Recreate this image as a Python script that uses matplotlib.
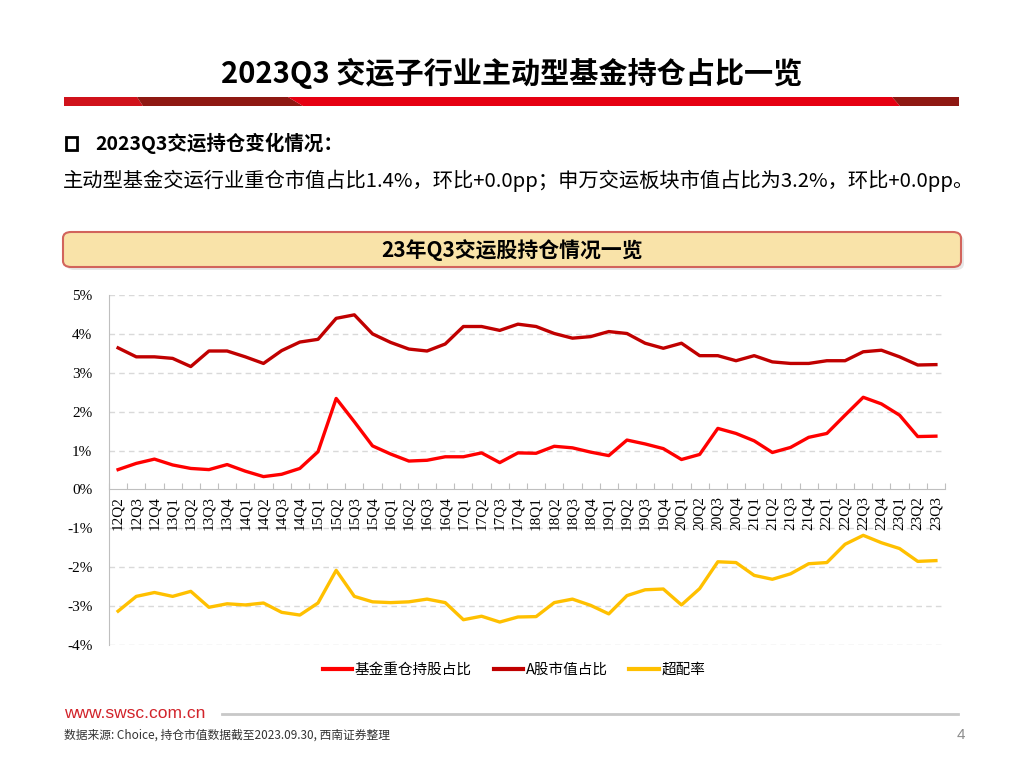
import matplotlib
matplotlib.use("Agg")
from matplotlib import pyplot as plt
from matplotlib.patches import Polygon, FancyBboxPatch, Rectangle
from matplotlib.lines import Line2D
import numpy as np

plt.rcParams['font.family'] = ['Noto Sans CJK SC', 'DejaVu Sans']

# =============================================================================
# Data
# =============================================================================

quarters = ['12Q2', '12Q3', '12Q4',
            '13Q1', '13Q2', '13Q3', '13Q4',
            '14Q1', '14Q2', '14Q3', '14Q4',
            '15Q1', '15Q2', '15Q3', '15Q4',
            '16Q1', '16Q2', '16Q3', '16Q4',
            '17Q1', '17Q2', '17Q3', '17Q4',
            '18Q1', '18Q2', '18Q3', '18Q4',
            '19Q1', '19Q2', '19Q3', '19Q4',
            '20Q1', '20Q2', '20Q3', '20Q4',
            '21Q1', '21Q2', '21Q3', '21Q4',
            '22Q1', '22Q2', '22Q3', '22Q4',
            '23Q1', '23Q2', '23Q3']

# 基金重仓持股占比 (%)
fund_share = [0.51, 0.67, 0.78,
              0.63, 0.54, 0.51, 0.64,
              0.47, 0.33, 0.39, 0.54,
              0.97, 2.34, 1.74, 1.12,
              0.91, 0.73, 0.75, 0.84,
              0.84, 0.94, 0.69, 0.94,
              0.93, 1.11, 1.07, 0.96,
              0.87, 1.27, 1.17, 1.05,
              0.77, 0.90, 1.57, 1.44,
              1.25, 0.95, 1.08, 1.34,
              1.44, 1.91, 2.37, 2.20,
              1.91, 1.36, 1.37]

# A股市值占比 (%)
market_share = [3.64, 3.41, 3.41,
                3.37, 3.16, 3.56, 3.56,
                3.41, 3.24, 3.57, 3.79,
                3.86, 4.40, 4.49, 4.00,
                3.78, 3.61, 3.56, 3.74,
                4.19, 4.19, 4.09, 4.25,
                4.19, 4.01, 3.89, 3.93,
                4.06, 4.01, 3.76, 3.63,
                3.76, 3.44, 3.44, 3.31,
                3.44, 3.28, 3.24, 3.24,
                3.31, 3.31, 3.54, 3.58,
                3.41, 3.20, 3.21]

# 超配率 (%)
overweight = [-3.13, -2.75, -2.65,
              -2.75, -2.62, -3.03, -2.94,
              -2.97, -2.92, -3.16, -3.23,
              -2.92, -2.08, -2.75, -2.89,
              -2.91, -2.89, -2.82, -2.91,
              -3.35, -3.26, -3.41, -3.28,
              -3.27, -2.91, -2.82, -2.98,
              -3.20, -2.73, -2.58, -2.56,
              -2.97, -2.55, -1.86, -1.88,
              -2.21, -2.31, -2.17, -1.91,
              -1.88, -1.41, -1.18, -1.37,
              -1.52, -1.85, -1.83]

series_names = ['基金重仓持股占比', 'A股市值占比', '超配率']
series_colors = ['#FF0000', '#C00000', '#FFC000']

W, H = 1024, 768


def fx(px):
    return px / W


def fy(py):
    return 1 - py / H


fig = plt.figure(figsize=(10.24, 7.68), dpi=100)

# =============================================================================
# Page header
# =============================================================================

fig.text(fx(512), fy(73), '2023Q3 交运子行业主动型基金持仓占比一览',
         ha='center', va='center', fontsize=21, fontweight='bold', color='black')

# red band under the title
band = [
    ([(64, 97), (137, 97), (143, 106), (64, 106)], '#D0121B'),
    ([(137, 97), (288, 97), (303, 106), (143, 106)], '#8E1812'),
    ([(288, 97), (892, 97), (900, 106), (303, 106)], '#E60012'),
    ([(892, 97), (959, 97), (959, 106), (900, 106)], '#8E1812'),
]
for pts, c in band:
    fig.patches.append(Polygon([(fx(x), fy(y)) for x, y in pts], closed=True,
                               transform=fig.transFigure, facecolor=c,
                               edgecolor='none'))

# bullet heading
fig.patches.append(Rectangle((fx(66), fy(150)), fx(11), 13 / H,
                             transform=fig.transFigure, facecolor='white',
                             edgecolor='black', linewidth=2))
fig.text(fx(95), fy(143), '2023Q3交运持仓变化情况：', ha='left', va='center',
         fontsize=14, fontweight='bold')
fig.text(fx(63), fy(181),
         '主动型基金交运行业重仓市值占比1.4%，环比+0.0pp；申万交运板块市值占比为3.2%，环比+0.0pp。',
         ha='left', va='center', fontsize=14.6)

# banner
fig.patches.append(FancyBboxPatch((fx(66), fy(270)), fx(898), 35 / H,
                                  boxstyle='round,pad=0,rounding_size=0.008',
                                  transform=fig.transFigure, facecolor='#D8D8D8',
                                  edgecolor='none', alpha=0.6))
fig.patches.append(FancyBboxPatch((fx(63), fy(267)), fx(898), 35 / H,
                                  boxstyle='round,pad=0,rounding_size=0.008',
                                  transform=fig.transFigure, facecolor='#F9E3A9',
                                  edgecolor='#D2645C', linewidth=1.5))
fig.text(fx(512), fy(250), '23年Q3交运股持仓情况一览', ha='center', va='center',
         fontsize=15, fontweight='bold')

# =============================================================================
# Chart
# =============================================================================

ax = fig.add_axes([fx(109), fy(645), fx(836), 350 / H])
x = np.arange(len(quarters))

for vals, name, c in zip([fund_share, market_share, overweight],
                         series_names, series_colors):
    ax.plot(x, vals, color=c, linewidth=2.4, label=name, solid_joinstyle='round')

ax.set_xlim(-0.5, len(quarters) - 0.5)
ax.set_ylim(-4, 5)

ax.set_yticks(np.arange(-4, 6, 1))
ax.set_yticklabels(['%d%%' % v for v in range(-4, 6)],
                   fontfamily='Liberation Serif', fontsize=11)
ax.tick_params(axis='y', length=0, pad=12)

for v in range(-4, 6):
    if v != 0:
        ax.axhline(v, color='#D9D9D9', linewidth=1, linestyle=(0, (4, 3)),
                   zorder=0)

for s in ['top', 'right']:
    ax.spines[s].set_visible(False)
ax.spines['left'].set_color('#BFBFBF')
ax.spines['bottom'].set_position(('data', 0))
ax.spines['bottom'].set_color('#BFBFBF')

ax.set_xticks(np.arange(-0.5, len(quarters), 1))
ax.set_xticklabels([])
ax.set_xticks(x, minor=True)
ax.set_xticklabels(quarters, minor=True, rotation=90,
                   fontfamily='Liberation Serif', fontsize=11)
ax.tick_params(axis='x', which='major', direction='in', length=4,
               color='#BFBFBF')
ax.tick_params(axis='x', which='minor', length=0, pad=5)

handles = [Line2D([0], [0], color=c, linewidth=3) for c in series_colors]
fig.legend(handles, series_names, loc='center', ncol=3,
           bbox_to_anchor=(fx(514), fy(670)), frameon=False, fontsize=10.5,
           handlelength=2.0, handletextpad=0.2, columnspacing=1.5)

# =============================================================================
# Footer
# =============================================================================

fig.text(fx(64), fy(714), 'www.swsc.com.cn', ha='left', va='center',
         fontsize=12.5, color='#D2232A', fontfamily='Liberation Sans')
fig.lines.append(Line2D([fx(222), fx(958)], [fy(714), fy(714)],
                        transform=fig.transFigure, color='#C8C8C8',
                        linewidth=2))
fig.text(fx(64), fy(735), '数据来源: Choice, 持仓市值数据截至2023.09.30, 西南证券整理',
         ha='left', va='center', fontsize=8.5, style='italic', color='#333333')
fig.text(fx(961), fy(735), '4', ha='center', va='center', fontsize=11,
         color='#8C8C8C', fontfamily='Liberation Sans')

plt.savefig('out.png', dpi=100)
